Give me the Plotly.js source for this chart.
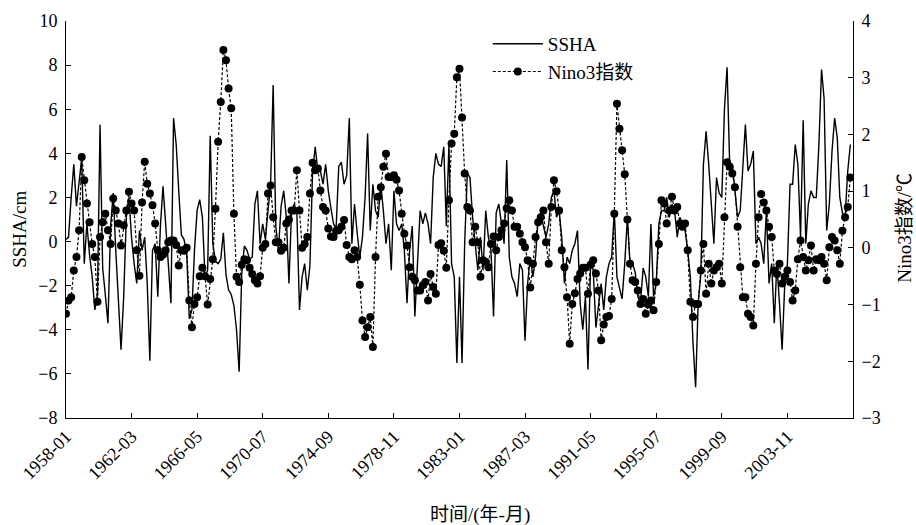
<!DOCTYPE html>
<html>
<head>
<meta charset="utf-8">
<script src="https://cdn.plot.ly/plotly-3.0.1.min.js"></script>
<style>
html,body{margin:0;padding:0;background:#fff;}
#chart{width:916px;height:525px;}
</style>
</head>
<body>
<div id="chart"></div>
<script>
// Series start month and step (bi-monthly samples)
const startYear = 1958;
const stepMonths = 2;

// SSHA (cm), left axis — one row per year, 6 samples per year
const ssha = [
  0.1, 0.2, 2.0, 3.5, 1.6, 2.8,
  3.8, -1.0, 0.8, -0.6, -1.6, -3.1,
  -2.4, 5.3, -1.2, -2.4, -3.7, 0.7,
  2.2, -0.4, -2.7, -4.9, -2.5, 1.1,
  2.0, 0.2, -1.0, -1.9, 0.5, -0.4,
  0.2, -1.9, -5.4, -0.4, -0.1, -2.5,
  0.7, 2.5, 0.8, -1.0, -2.8, 5.6,
  4.4, 2.3, 0.3, 0.1, -0.5, -3.5,
  -3.1, -0.4, 1.4, 1.9, 1.1, -1.6,
  -1.3, 4.8, -0.1, -0.9, -1.0, -0.8,
  0.4, -1.5, -2.2, -2.4, -2.9, -4.0,
  -5.9, -1.5, -0.2, -0.4, -0.8, -0.7,
  1.7, 2.3, -0.1, 0.8, 0.1, 1.4,
  2.6, 7.1, 0.7, -0.4, 1.6, 2.3,
  1.1, -1.9, 1.4, 1.7, 1.3, -3.1,
  -1.6, -1.0, -2.2, -1.1, 3.2, 4.3,
  3.2, 3.2, 2.6, 3.5, 2.3, 1.5,
  0.8, 0.6, 3.4, 3.6, 2.6, 3.0,
  5.6, -0.1, 1.7, 0.4, -0.7, 0.2,
  2.0, 4.9, 0.5, 2.6, 1.4, 1.1,
  2.6, 1.4, -0.1, 0.8, -1.3, 2.3,
  0.8, 0.5, 0.8, -0.4, -2.8, -0.4,
  0.7, -3.4, -1.0, 1.4, 0.8, 1.3,
  0.8, -0.1, 2.9, 4.0, 3.5, 3.4,
  4.3, 0.7, 4.4, -1.0, -1.6, -5.5,
  -1.6, -5.5, -0.1, 3.1, 2.9, 1.1,
  -0.1, -1.3, 0.2, -1.3, 1.4, 0.2,
  -0.4, -3.4, 1.3, 1.7, 0.8, -0.1,
  3.7, -0.7, -1.6, -1.9, -2.5, -1.0,
  -1.3, -4.5, -1.9, -0.7, -1.6, -0.7,
  1.1, 1.3, 0.7, 0.2, 0.8, 2.0,
  2.3, 1.1, 1.4, 0.2, -1.9, -0.7,
  -1.0, -0.4, -0.1, 0.5, -2.8, -4.0,
  -2.5, -5.8, -1.0, -1.3, -3.9, -2.8,
  -1.9, -3.1, -1.6, -1.0, -0.7, 1.4,
  -1.6, -2.1, -2.6, -1.0, 1.1, -1.0,
  -1.0, -1.4, -2.5, -2.8, -1.2, -1.6,
  -2.5, 0.8, -2.5, -1.9, 0.8, 1.4,
  1.4, 2.0, 1.1, 1.7, 1.4, 0.2,
  1.1, 0.8, 0.5, -0.4, -1.6, -4.6,
  -6.6, -2.8, -1.5, 3.5, 5.0, 3.5,
  1.9, -0.1, 2.9, 2.2, 2.0, 6.0,
  7.9, 3.5, 3.5, 2.3, 1.1, 1.4,
  3.2, 5.3, 3.2, 3.5, 4.1, -0.1,
  0.2, -0.1, -1.0, 1.4, -1.9, -1.0,
  -3.7, -1.0, -2.8, -4.9, -1.9, -1.0,
  2.6, 2.6, 4.4, 3.5, 0.2, 5.5,
  -0.1, 1.7, 2.3, 2.0, 2.0, 4.4,
  7.8, 6.5, 0.5, 1.7, 4.1, 5.6,
  4.7, 2.0, 1.3, 1.1, 3.2, 4.4
];

// Nino3 index (°C), right axis — one row per year, 6 samples per year
const nino3 = [
  -1.16, -0.93, -0.87, -0.4, -0.16, 0.31,
  1.6, 1.19, 0.78, 0.45, 0.07, -0.16,
  -0.95, 0.19, 0.45, 0.6, 0.31, 0.07,
  0.87, 0.66, 0.43, 0.04, 0.4, 0.66,
  0.99, 0.78, 0.66, -0.04, -0.49, 0.8,
  1.52, 1.13, 0.96, 0.75, 0.43, -0.04,
  -0.16, -0.12, -0.04, 0.1, 0.13, 0.13,
  0.05, -0.31, -0.04, -0.05, 0.0, -0.93,
  -1.4, -0.99, -0.87, -0.5, -0.35, -0.5,
  -1.0, -0.55, -0.2, 0.69, 1.87, 2.57,
  3.49, 3.31, 2.81, 2.46, 0.6, -0.51,
  -0.6, -0.3, -0.2, -0.22, -0.35, -0.46,
  -0.57, -0.63, -0.5, 0.0, 0.07, 0.96,
  1.1, 0.54, 0.1, 0.1, -0.05, 0.0,
  0.43, 0.5, 0.66, 0.66, 1.37, 0.66,
  0.0, 0.07, 0.19, 0.96, 1.5, 1.37,
  1.4, 1.01, 0.72, 0.66, 0.34, 0.2,
  0.19, 0.3, 0.31, 0.37, 0.49, 0.05,
  -0.16, -0.2, -0.04, -0.16, -0.65, -1.28,
  -1.57, -1.4, -1.22, -1.75, -0.16, 0.9,
  1.07, 1.43, 1.66, 1.25, 1.25, 1.28,
  1.2, 1.01, 0.6, 0.25, 0.04, -0.34,
  -0.51, -0.57, -0.75, -0.75, -0.66, -0.6,
  -0.93, -0.46, -0.69, -0.81, 0.05, 0.08,
  -0.05, -0.35, 0.84, 1.84, 2.01, 3.01,
  3.16, 2.3, 1.31, 0.72, 0.66, 0.1,
  0.37, 0.1, -0.51, -0.22, -0.25, -0.34,
  0.07, 0.2, -0.04, 0.19, 0.31, 0.43,
  0.7, 0.84, 0.66, 0.37, 0.37, 0.25,
  0.1, 0.01, -0.22, -0.7, -0.28, 0.19,
  0.45, 0.54, 0.66, 0.1, -0.28, 0.72,
  1.19, 1.0, 0.66, -0.04, -0.34, -0.87,
  -1.69, -0.99, -0.8, -0.55, -0.45, -0.35,
  -0.35, -0.81, -0.3, -0.22, -0.45, -0.75,
  -1.63, -1.35, -1.22, -1.2, -0.9, 0.6,
  2.54, 2.1, 1.72, 1.3, 0.5, -0.28,
  -0.57, -0.6, -0.75, -0.99, -0.9, -1.16,
  -1.0, -0.93, -1.1, -0.6, 0.07, 0.84,
  0.78, 0.43, 0.66, 0.9, 0.66, 0.72,
  0.43, 0.37, 0.43, -0.04, -0.95, -1.22,
  -0.99, -0.99, -0.4, 0.07, -0.81, -0.28,
  -0.63, -0.4, -0.34, -0.28, -0.63, 0.54,
  1.51, 1.43, 1.31, 1.07, 0.37, -0.34,
  -0.87, -0.87, -1.16, -1.22, -1.37, -0.28,
  0.54, 0.95, 0.8, 0.66, 0.37, 0.19,
  -0.4, -0.46, -0.28, -0.63, -0.51, -0.4,
  -0.6, -0.93, -0.75, -0.2, 0.13, -0.16,
  -0.4, -0.22, 0.04, -0.4, -0.2, -0.22,
  -0.16, -0.28, -0.57, 0.01, 0.19, 0.13,
  -0.04, -0.28, 0.3, 0.54, 0.72, 1.24
];

// x-axis tick labels
const tickLabels = ['1958-01','1962-03','1966-05','1970-07','1974-09','1978-11',
                    '1983-01','1987-03','1991-05','1995-07','1999-09','2003-11'];

const seriesNames = ['SSHA', 'Nino3指数'];

function monthDate(i) {
  const m = i * stepMonths;
  const y = startYear + Math.floor(m / 12);
  const mo = (m % 12) + 1;
  return y + '-' + String(mo).padStart(2, '0') + '-01';
}
const dates = ssha.map((_, i) => monthDate(i));

const FONT = '"Liberation Serif", "Times New Roman", "Noto Sans CJK SC", serif';

const traces = [
  {
    x: dates, y: ssha, name: seriesNames[0], type: 'scatter', mode: 'lines',
    line: {color: '#000', width: 1.4}, yaxis: 'y'
  },
  {
    x: dates, y: nino3, name: seriesNames[1], type: 'scatter', mode: 'lines+markers',
    line: {color: '#000', width: 1.2, dash: '3px,2px'},
    marker: {color: '#000', size: 8}, yaxis: 'y2'
  }
];

const layout = {
  width: 916, height: 525,
  margin: {l: 66, r: 63, t: 21, b: 107, pad: 0},
  paper_bgcolor: '#fff', plot_bgcolor: '#fff',
  font: {family: FONT, size: 18, color: '#000'},
  showlegend: true,
  legend: {
    x: 0.536, y: 0.99, xanchor: 'left', yanchor: 'top',
    bgcolor: 'rgba(0,0,0,0)', borderwidth: 0,
    font: {family: FONT, size: 19, color: '#000'},
    itemwidth: 50, tracegroupgap: 0
  },
  xaxis: {
    type: 'date', range: ['1958-01-01', '2008-01-01'],
    tickmode: 'array', tickvals: tickLabels.map(t => t + '-01'), ticktext: tickLabels,
    tickangle: -45, ticks: 'inside', ticklen: 5, tickwidth: 1, tickcolor: '#000',
    showline: true, linecolor: '#000', linewidth: 1, mirror: false,
    showgrid: false, zeroline: false, automargin: false,
    tickfont: {family: FONT, size: 18, color: '#000'}
  },
  yaxis: {
    range: [-8, 10], tickmode: 'linear', tick0: -8, dtick: 2,
    ticks: 'inside', ticklen: 5, tickwidth: 1, tickcolor: '#000',
    showline: true, linecolor: '#000', linewidth: 1, mirror: false,
    showgrid: false, zeroline: false, automargin: false,
    tickfont: {family: FONT, size: 18, color: '#000'},
    ticklabelstandoff: 4
  },
  yaxis2: {
    overlaying: 'y', side: 'right',
    range: [-3, 4], tickmode: 'linear', tick0: -3, dtick: 1,
    ticks: 'inside', ticklen: 5, tickwidth: 1, tickcolor: '#000',
    showline: true, linecolor: '#000', linewidth: 1, mirror: false,
    showgrid: false, zeroline: false, automargin: false,
    tickfont: {family: FONT, size: 18, color: '#000'},
    ticklabelstandoff: 4
  },
  annotations: [
    {text: 'SSHA/cm', xref: 'paper', yref: 'paper', x: -0.0584, y: 0.474,
     textangle: -90, showarrow: false, xanchor: 'center', yanchor: 'middle',
     font: {family: FONT, size: 19, color: '#000'}},
    {text: 'Nino3指数/℃', xref: 'paper', yref: 'paper', x: 1.066, y: 0.479,
     textangle: -90, showarrow: false, xanchor: 'center', yanchor: 'middle',
     font: {family: FONT, size: 19, color: '#000'}},
    {text: '时间/(年-月)', xref: 'paper', yref: 'paper', x: 0.526, y: -0.245,
     showarrow: false, xanchor: 'center', yanchor: 'middle',
     font: {family: FONT, size: 19, color: '#000'}}
  ]
};

Plotly.newPlot('chart', traces, layout, {displayModeBar: false, staticPlot: true});
</script>
</body>
</html>
